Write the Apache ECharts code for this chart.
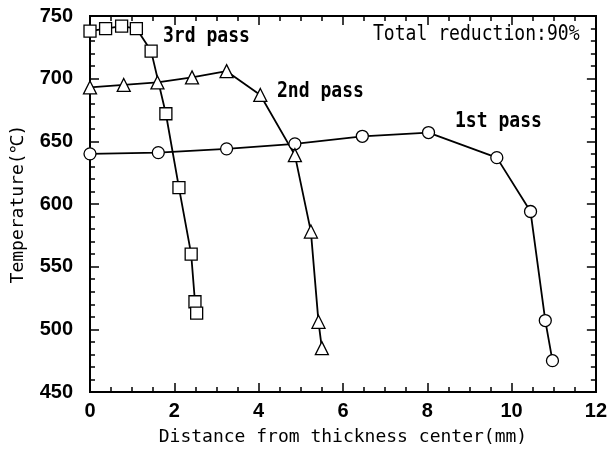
<!DOCTYPE html>
<html>
<head>
<meta charset="utf-8">
<script src="https://cdn.jsdelivr.net/npm/echarts@6/dist/echarts.min.js"></script>
<style>
  html, body { margin: 0; padding: 0; background: #fff; }
  #chart { width: 610px; height: 454px; }
</style>
</head>
<body>
<div id="chart"></div>
<script>
// 数据: 各道次温度分布
var pass1X = [0, 1.62, 3.24, 4.86, 6.46, 8.03, 9.65, 10.45, 10.8, 10.97];
var pass1Y = [640, 641, 644, 648, 654, 657, 637, 594, 507, 475];
var pass2X = [0, 0.8, 1.6, 2.42, 3.24, 4.04, 4.86, 5.24, 5.42, 5.5];
var pass2Y = [693, 695, 697, 701, 706, 687, 639, 578, 506, 485];
var pass3X = [0, 0.37, 0.75, 1.1, 1.45, 1.8, 2.11, 2.4, 2.49, 2.53];
var pass3Y = [738, 740, 742, 740, 722, 672, 613, 560, 522, 513];

var font = "'DejaVu Sans Mono', monospace";
var numFont = "'Liberation Sans Narrow', 'Liberation Sans', sans-serif";
var chart = echarts.init(document.getElementById("chart"));

function pairs(xs, ys) {
  return xs.map(function (x, i) { return [x, ys[i]]; });
}

// main: 带标签的主刻度轴; 其余轴只画短刻度
function axisX(pos, step, tickLen, main) {
  return {
    type: "value", min: 0, max: 12, interval: step,
    position: pos,
    axisLine: { show: true, onZero: false, lineStyle: { color: "#000", width: 2 } },
    axisTick: { show: true, inside: true, length: tickLen, lineStyle: { color: "#000", width: 1.5 } },
    axisLabel: { show: main, color: "#000", fontSize: 20, fontWeight: "bold", fontFamily: numFont, margin: 9 },
    splitLine: { show: false },
    name: main ? "Distance from thickness center(mm)" : "",
    nameLocation: "middle", nameGap: 36,
    nameTextStyle: { color: "#000", fontSize: 18, fontFamily: font }
  };
}

function axisY(pos, step, tickLen, main) {
  return {
    type: "value", min: 450, max: 750, interval: step,
    position: pos,
    axisLine: { show: true, onZero: false, lineStyle: { color: "#000", width: 2 } },
    axisTick: { show: true, inside: true, length: tickLen, lineStyle: { color: "#000", width: 1.5 } },
    axisLabel: { show: main, color: "#000", fontSize: 20, fontWeight: "bold", fontFamily: numFont, margin: 17 },
    splitLine: { show: false },
    name: main ? "Temperature(\u2103)" : "",
    nameLocation: "middle", nameGap: 63, nameRotate: 90,
    nameTextStyle: { color: "#000", fontSize: 18, fontFamily: font }
  };
}

function line(data, symbol, size) {
  return {
    type: "line", data: data, symbol: symbol, symbolSize: size,
    showAllSymbol: true,
    lineStyle: { color: "#000", width: 1.8 },
    itemStyle: { color: "#fff", borderColor: "#000", borderWidth: 1.3 },
    animation: false, z: 3
  };
}

function note(text, x, y, bold) {
  return {
    type: "text", x: x, y: y, scaleX: 0.86,
    style: { text: text, font: (bold ? "bold " : "") + "21px " + font, fill: "#000", verticalAlign: "middle" }
  };
}

var option = {
  backgroundColor: "#fff",
  animation: false,
  grid: { left: 90, right: 9, top: 16, bottom: 62 },
  xAxis: [
    axisX("bottom", 2, 9, true),
    axisX("top", 2, 9, false),
    axisX("bottom", 0.5, 5, false),
    axisX("top", 0.5, 5, false)
  ],
  yAxis: [
    axisY("left", 50, 9, true),
    axisY("right", 50, 9, false),
    axisY("left", 10, 5, false),
    axisY("right", 10, 5, false)
  ],
  series: [
    line(pairs(pass1X, pass1Y), "circle", 12),
    line(pairs(pass2X, pass2Y), "triangle", 13),
    line(pairs(pass3X, pass3Y), "rect", 12)
  ],
  graphic: [
    note("3rd pass", 163, 37, true),
    note("2nd pass", 277, 92, true),
    note("1st pass", 455, 122, true),
    note("Total reduction:90%", 373, 35, false)
  ]
};
chart.setOption(option);
</script>
</body>
</html>
